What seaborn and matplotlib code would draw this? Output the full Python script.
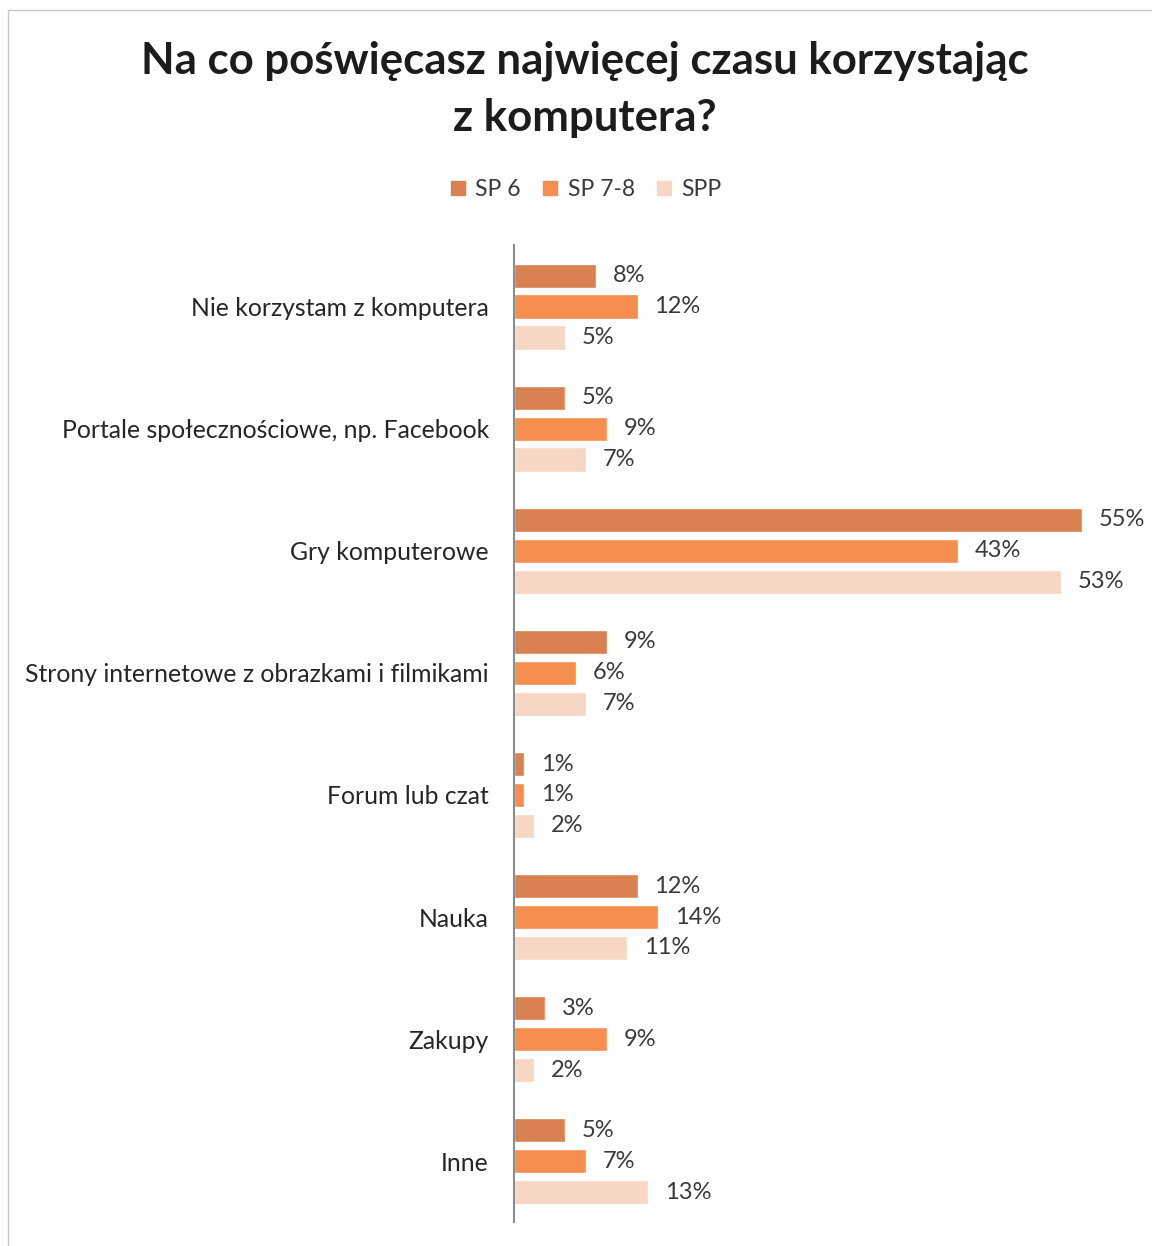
import pandas as pd
import numpy as np
import matplotlib
matplotlib.use("Agg")
import matplotlib.pyplot as plt
import seaborn as sb

# dane z wykresu
kategorie = ["Nie korzystam z komputera", "Portale społecznościowe, np. Facebook",
             "Gry komputerowe", "Strony internetowe z obrazkami i filmikami",
             "Forum lub czat", "Nauka", "Zakupy", "Inne"]
sp6 = [8, 5, 55, 9, 1, 12, 3, 5]
sp78 = [12, 9, 43, 6, 1, 14, 9, 7]
spp = [5, 7, 53, 7, 2, 11, 2, 13]
serie = ["SP 6", "SP 7-8", "SPP"]
kolory = ["#D98150", "#F58D4F", "#F8D6C4"]

df = pd.DataFrame({
    "kategoria": kategorie * 3,
    "seria": np.repeat(serie, len(kategorie)),
    "wartosc": sp6 + sp78 + spp,
})

sb.set_style("white")
plt.rcParams["font.family"] = ["Lato", "DejaVu Sans"]

fig = plt.figure(figsize=[11.52, 12.46], dpi=100)
ax = fig.add_axes([0.446, 0.019, 0.544, 0.784])

sb.barplot(data=df, y="kategoria", x="wartosc", hue="seria", order=kategorie,
           hue_order=serie, palette=kolory, orient="h", width=0.76, gap=0.22,
           saturation=1, ax=ax, legend=False)

for cont in ax.containers:
    ax.bar_label(cont, labels=[f"{int(v)}%" for v in cont.datavalues],
                 padding=12, fontsize=17, color="#3a3a3a")

ax.set_xlim(0, 60.7)
ax.set_xlabel("")
ax.set_ylabel("")
ax.set_xticks([])
ax.tick_params(axis="y", length=0, pad=18, labelsize=17.8, labelcolor="#262626")
for s in ["top", "right", "bottom"]:
    ax.spines[s].set_visible(False)
ax.spines["left"].set_color("#8c8c8c")
ax.spines["left"].set_linewidth(1.5)

# legenda
uchwyty = [plt.Line2D([], [], marker="s", linestyle="", markersize=10,
                      markerfacecolor=k, markeredgecolor=k) for k in kolory]
fig.legend(uchwyty, serie, loc="center", bbox_to_anchor=(0.508, 0.848), ncol=3,
           frameon=False, fontsize=16.5, handlelength=0.8, handletextpad=0.35,
           columnspacing=0.9, labelcolor="#3a3a3a")

fig.text(0.508, 0.951, "Na co poświęcasz najwięcej czasu korzystając",
         ha="center", va="center", fontsize=31.5, fontweight="bold", color="#1c1c1c")
fig.text(0.508, 0.905, "z komputera?",
         ha="center", va="center", fontsize=31.5, fontweight="bold", color="#1c1c1c")

# ramka obszaru wykresu
fig.add_artist(plt.Rectangle((0.007, -0.01), 1.1, 1.002, transform=fig.transFigure,
                             fill=False, edgecolor="#c8c8c8", linewidth=1))

fig.savefig("out.png", dpi=100)
